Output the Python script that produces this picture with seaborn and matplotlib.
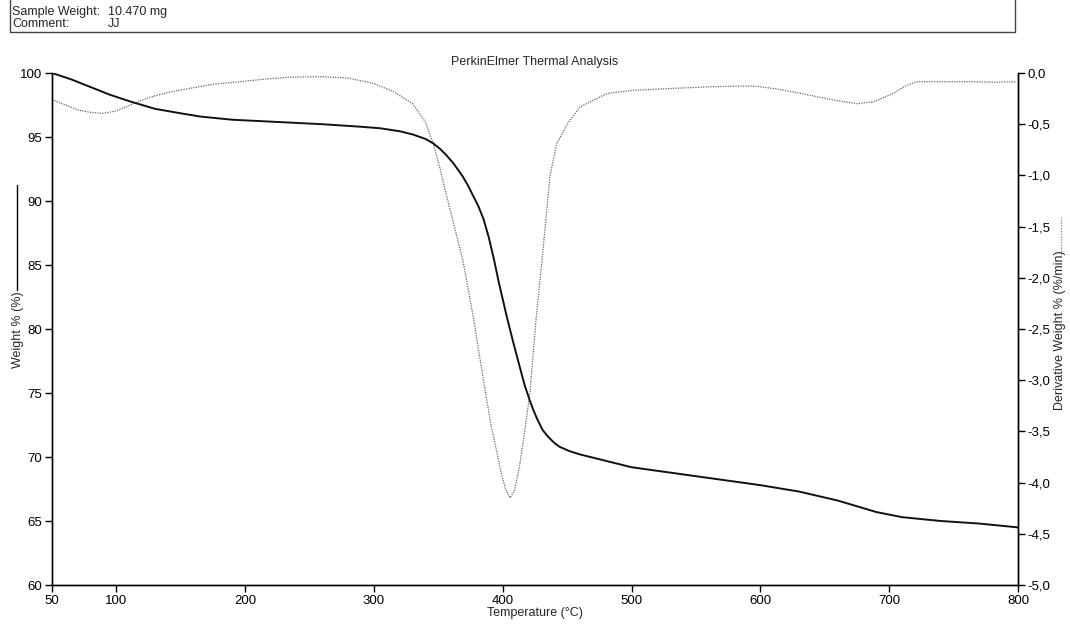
import matplotlib
matplotlib.use("Agg")
import matplotlib.pyplot as plt
import seaborn as sns
import pandas as pd
from matplotlib.lines import Line2D
from matplotlib.ticker import FuncFormatter

# Curva de peso (TGA)
temp_peso = [50, 65, 80, 95, 110, 130, 150, 165, 190, 220, 260, 290, 305, 320,
             330, 340, 346, 351, 356, 362, 369, 373, 377, 381, 385, 389, 393,
             397, 403, 408, 413, 417, 421, 424, 427, 431, 435, 440, 444, 452,
             460, 480, 500, 550, 600, 630, 660, 690, 710, 740, 770, 800]
peso = [100.0, 99.5, 98.9, 98.3, 97.8, 97.2, 96.85, 96.6, 96.35, 96.2, 96.0,
        95.8, 95.68, 95.45, 95.2, 94.85, 94.5, 94.1, 93.6, 92.9, 91.9, 91.2,
        90.4, 89.6, 88.6, 87.2, 85.5, 83.6, 81.0, 79.0, 77.1, 75.6, 74.4,
        73.6, 72.9, 72.1, 71.6, 71.1, 70.8, 70.45, 70.2, 69.7, 69.2, 68.5,
        67.8, 67.3, 66.6, 65.7, 65.3, 65.0, 64.8, 64.5]

# Derivada (DTG)
temp_deriv = [50, 60, 70, 80, 90, 100, 113, 125, 140, 157, 175, 196, 215, 235,
              260, 280, 299, 315, 330, 340, 346, 351, 356, 362, 369, 377, 382,
              387.5, 391, 395, 399, 402, 405.6, 409, 413, 417, 421, 426, 431,
              436.6, 441.8, 445, 450, 460, 468, 481, 500, 532, 560, 584, 597,
              615, 636, 655, 675, 688, 703, 712, 721, 740, 765, 780, 799]
deriv = [-0.26, -0.31, -0.36, -0.385, -0.394, -0.37, -0.30, -0.24, -0.19,
         -0.15, -0.11, -0.085, -0.06, -0.04, -0.036, -0.05, -0.10, -0.18,
         -0.30, -0.48, -0.69, -0.92, -1.18, -1.48, -1.83, -2.38, -2.77, -3.19,
         -3.45, -3.68, -3.92, -4.06, -4.15, -4.08, -3.84, -3.50, -3.13, -2.38,
         -1.76, -1.01, -0.69, -0.62, -0.50, -0.33, -0.28, -0.20, -0.17, -0.15,
         -0.135, -0.127, -0.13, -0.16, -0.21, -0.26, -0.30, -0.28, -0.20,
         -0.13, -0.085, -0.085, -0.085, -0.09, -0.085]

x_ticks = [50, 100, 200, 300, 400, 500, 600, 700, 800]
y_ticks = [60, 65, 70, 75, 80, 85, 90, 95, 100]
y2_ticks = [0.0, -0.5, -1.0, -1.5, -2.0, -2.5, -3.0, -3.5, -4.0, -4.5, -5.0]

sns.set_theme(style="white")
plt.rcParams['font.family'] = ['Liberation Sans', 'DejaVu Sans']

fig = plt.figure(figsize=(10.7, 6.24), dpi=100)
ax = fig.add_axes([0.0486, 0.0625, 0.9028, 0.8205])
ax2 = ax.twinx()

df_peso = pd.DataFrame({"T": temp_peso, "W": peso})
df_deriv = pd.DataFrame({"T": temp_deriv, "D": deriv})

sns.lineplot(data=df_deriv, x="T", y="D", ax=ax2, sort=False, color="#666666",
             linewidth=0.9, linestyle=(0, (1, 1)))
sns.lineplot(data=df_peso, x="T", y="W", ax=ax, sort=False, color="#111111",
             linewidth=1.4)
ax.set_zorder(ax2.get_zorder() + 1)
ax.patch.set_visible(False)

ax.set_xlim(50, 800)
ax.set_ylim(60, 100)
ax2.set_ylim(-5.0, 0.0)
ax.set_xticks(x_ticks)
ax.set_yticks(y_ticks)
ax2.set_yticks(y2_ticks)
ax2.yaxis.set_major_formatter(FuncFormatter(lambda v, p: f"{v:.1f}".replace(".", ",")))

for a in (ax, ax2):
    a.spines["top"].set_visible(False)
    for s in ("left", "right", "bottom"):
        a.spines[s].set_color("black")
        a.spines[s].set_linewidth(1.0)
    a.tick_params(axis="both", direction="out", length=5, width=1, colors="black",
                  labelsize=9.5, pad=2)
    a.grid(False)
ax.tick_params(left=True, bottom=True)
ax2.tick_params(right=True)

ax.set_xlabel("Temperature (°C)", fontsize=9, labelpad=0)
ax.set_ylabel("")
ax2.set_ylabel("")
ax.set_title("PerkinElmer Thermal Analysis", fontsize=9, pad=6)

# etiquetas de eje con muestra de linea
fig.text(0.017, 1 - 330 / 624, "Weight % (%)", rotation=90, fontsize=9,
         ha="center", va="center")
fig.add_artist(Line2D([0.0155, 0.0155], [1 - 290 / 624, 1 - 185 / 624],
                      color="black", lw=1.0, transform=fig.transFigure))
fig.text(0.991, 1 - 330 / 624, "Derivative Weight % (%/min)", rotation=90,
         fontsize=9, ha="center", va="center")
fig.add_artist(Line2D([0.9915, 0.9915], [1 - 254 / 624, 1 - 217 / 624],
                      color="#8080ff", lw=1.0, linestyle=(0, (1, 1)),
                      transform=fig.transFigure))

# cabecera con datos de la muestra
fig.text(0.0112, 1 - 12 / 624, "Sample Weight:", fontsize=9, va="center")
fig.text(0.101, 1 - 12 / 624, "10.470 mg", fontsize=9, va="center")
fig.text(0.0112, 1 - 24 / 624, "Comment:", fontsize=9, va="center")
fig.text(0.101, 1 - 24 / 624, "JJ", fontsize=9, va="center")
fig.add_artist(Line2D([0.0093, 0.0093, 0.9486, 0.9486],
                      [1.0, 1 - 32 / 624, 1 - 32 / 624, 1.0],
                      color="#444444", lw=1.0, transform=fig.transFigure))

fig.savefig("out.png", dpi=100)
